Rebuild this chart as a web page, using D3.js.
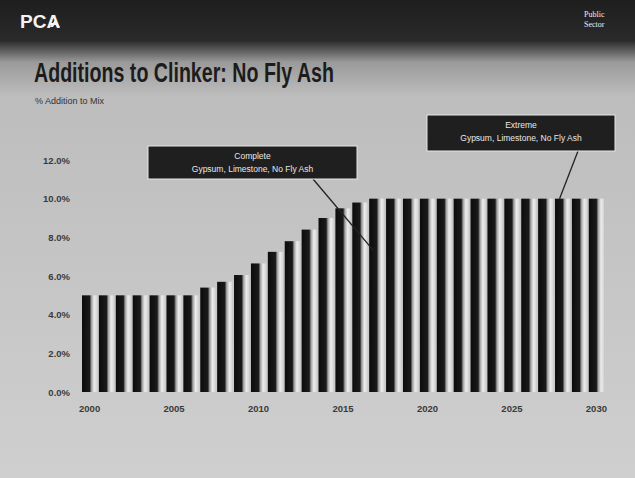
<!DOCTYPE html>
<html>
<head>
<meta charset="utf-8">
<script src="https://cdn.jsdelivr.net/npm/d3@7/dist/d3.min.js"></script>
<style>
  html, body { margin: 0; padding: 0; background: #c8c8c8; }
  svg { display: block; }
</style>
</head>
<body>
<script>
// Share of additions (gypsum, limestone) in the cement mix, by year
const years = [2000, 2001, 2002, 2003, 2004, 2005, 2006, 2007, 2008, 2009,
               2010, 2011, 2012, 2013, 2014, 2015, 2016, 2017, 2018, 2019,
               2020, 2021, 2022, 2023, 2024, 2025, 2026, 2027, 2028, 2029, 2030];
const additionPct = [5.0, 5.0, 5.0, 5.0, 5.0, 5.0, 5.0, 5.4, 5.7, 6.05,
                     6.65, 7.25, 7.8, 8.4, 9.0, 9.5, 9.8, 10.0, 10.0, 10.0,
                     10.0, 10.0, 10.0, 10.0, 10.0, 10.0, 10.0, 10.0, 10.0, 10.0, 10.0];
const yTicks = [0, 2, 4, 6, 8, 10, 12];
const xTickYears = [2000, 2005, 2010, 2015, 2020, 2025, 2030];

// Scenario call-outs: label lines, and the bar / level each leader points at
const calloutTitles = ["Complete", "Extreme"];
const calloutLines = ["Gypsum, Limestone, No Fly Ash", "Gypsum, Limestone, No Fly Ash"];
const calloutYears = [2017, 2028];
const calloutLevels = [7.3, 10.0];

const W = 635, H = 478;
const svg = d3.select("body").append("svg").attr("width", W).attr("height", H);
const defs = svg.append("defs");

// slide background: dark header band fading into grey
const bg = defs.append("linearGradient").attr("id", "bg").attr("x1", 0).attr("y1", 0).attr("x2", 0).attr("y2", 1);
bg.append("stop").attr("offset", "0").attr("stop-color", "#1e1e1e");
bg.append("stop").attr("offset", "0.085").attr("stop-color", "#2a2a2a");
bg.append("stop").attr("offset", "0.13").attr("stop-color", "#9a9a9a");
bg.append("stop").attr("offset", "0.2").attr("stop-color", "#bdbdbd");
bg.append("stop").attr("offset", "1").attr("stop-color", "#cfcfcf");
svg.append("rect").attr("width", W).attr("height", H).attr("fill", "url(#bg)");

// bar fill: dark face with a light highlight on the right
const barGrad = defs.append("linearGradient").attr("id", "barFill").attr("x1", 0).attr("y1", 0).attr("x2", 1).attr("y2", 0);
barGrad.append("stop").attr("offset", "0").attr("stop-color", "#0c0c0c");
barGrad.append("stop").attr("offset", "0.5").attr("stop-color", "#1a1a1a");
barGrad.append("stop").attr("offset", "0.62").attr("stop-color", "#a0a0a0");
barGrad.append("stop").attr("offset", "0.8").attr("stop-color", "#ececec");
barGrad.append("stop").attr("offset", "1").attr("stop-color", "#d4d4d4");

// header
svg.append("text").attr("x", 20).attr("y", 28)
  .attr("font-family", "Liberation Sans Narrow, Arial Narrow, sans-serif").attr("font-weight", "bold")
  .attr("font-size", 19).attr("fill", "#f4f4f4").text("PCA");
svg.append("path").attr("d", "M50,27 L55,20 L60,27 L57,27 L55,24 L53,27 Z").attr("fill", "#f4f4f4");
svg.append("text").attr("x", 584).attr("y", 17)
  .attr("font-family", "Liberation Serif, serif").attr("font-size", 8).attr("fill", "#eee").text("Public");
svg.append("text").attr("x", 584).attr("y", 27)
  .attr("font-family", "Liberation Serif, serif").attr("font-size", 8).attr("fill", "#eee").text("Sector");

// title and axis caption
svg.append("text").attr("x", 34).attr("y", 82)
  .attr("font-family", "Liberation Sans Narrow, Arial Narrow, sans-serif").attr("font-weight", "bold")
  .attr("font-size", 27).attr("fill", "#1c1c1c")
  .attr("textLength", 300).attr("lengthAdjust", "spacingAndGlyphs")
  .text("Additions to Clinker: No Fly Ash");
svg.append("text").attr("x", 35).attr("y", 104)
  .attr("font-family", "Liberation Sans, Arial, sans-serif").attr("font-size", 9).attr("fill", "#333")
  .text("% Addition to Mix");

// scales
const x = d3.scaleBand().domain(years).range([82, 604]).paddingInner(0.1).paddingOuter(0);
const y = d3.scaleLinear().domain([0, 12]).range([392, 160]);

// y axis labels
const yAxis = svg.append("g").attr("transform", "translate(70,0)")
  .call(d3.axisLeft(y).tickValues(yTicks).tickSize(0).tickPadding(0).tickFormat(d => d3.format(".1f")(d) + "%"));
yAxis.select(".domain").remove();
yAxis.selectAll("text").attr("font-family", "Liberation Sans, Arial, sans-serif")
  .attr("font-size", 9.5).attr("font-weight", "bold").attr("fill", "#3a3a3a");

// x axis labels (every fifth year)
const xAxis = svg.append("g").attr("transform", "translate(0,392)")
  .call(d3.axisBottom(x).tickValues(xTickYears).tickSize(0).tickPadding(13));
xAxis.select(".domain").remove();
xAxis.selectAll("text").attr("font-family", "Liberation Sans, Arial, sans-serif")
  .attr("font-size", 9.5).attr("font-weight", "bold").attr("fill", "#3a3a3a");

// bars
svg.append("g").selectAll("rect").data(years).join("rect")
  .attr("x", d => x(d))
  .attr("width", x.bandwidth())
  .attr("y", (d, i) => y(additionPct[i]))
  .attr("height", (d, i) => y(0) - y(additionPct[i]))
  .attr("fill", "url(#barFill)");

// call-outs
const boxes = [
  { x0: 148, y0: 146, w: 209, h: 33, ax: 313 },
  { x0: 427, y0: 115, w: 188, h: 36, ax: 578 }
];
boxes.forEach((b, i) => {
  const tx = x(calloutYears[i]) + x.bandwidth() * 0.3;
  const ty = y(calloutLevels[i]);
  svg.append("line").attr("x1", b.ax).attr("y1", b.y0 + b.h).attr("x2", tx).attr("y2", ty)
    .attr("stroke", "#222").attr("stroke-width", 1.3);
  svg.append("rect").attr("x", b.x0).attr("y", b.y0).attr("width", b.w).attr("height", b.h)
    .attr("fill", "#1f1f1f").attr("stroke", "#e6e6e6").attr("stroke-width", 1);
  const cx = b.x0 + b.w / 2;
  svg.append("text").attr("x", cx).attr("y", b.y0 + 13).attr("text-anchor", "middle")
    .attr("font-family", "Liberation Sans, Arial, sans-serif").attr("font-size", 8.5).attr("fill", "#e8e8e8")
    .text(calloutTitles[i]);
  svg.append("text").attr("x", cx).attr("y", b.y0 + 26).attr("text-anchor", "middle")
    .attr("font-family", "Liberation Sans, Arial, sans-serif").attr("font-size", 8.5).attr("fill", "#e8e8e8")
    .text(calloutLines[i]);
});
</script>
</body>
</html>
